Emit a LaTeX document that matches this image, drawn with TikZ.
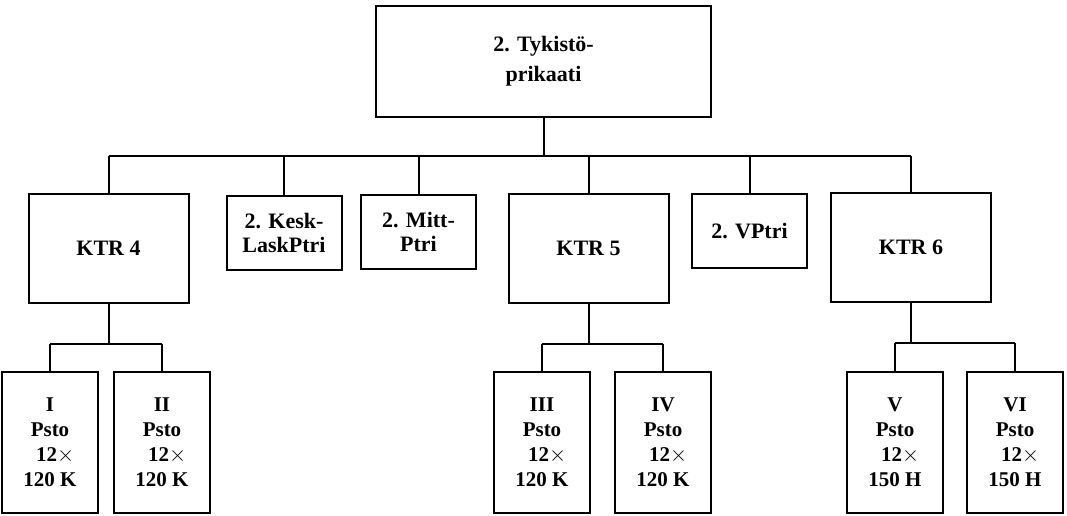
\documentclass[tikz,border=0pt]{standalone}
\usepackage{fontspec}
\setmainfont{Liberation Serif}
\usepackage{tikz}
\usetikzlibrary{positioning}
\tikzset{
  orgbox/.style={draw, line width=1pt, inner sep=0pt, align=center, font=\fontsize{11}{12}\selectfont\bfseries},
  brig/.style={orgbox, minimum width=167.5pt, minimum height=55.5pt, font=\fontsize{11}{15}\selectfont\bfseries},
  ktr/.style={orgbox, minimum width=80pt, minimum height=54.5pt},
  ptri/.style={orgbox, minimum width=57.5pt, minimum height=37pt},
  psto/.style={orgbox, minimum width=48pt, minimum height=70.5pt, font=\fontsize{10.5}{12.5}\selectfont\bfseries},
  link/.style={line width=1pt},
}

\begin{document}
\begin{tikzpicture}[x=0.5pt, y=-0.5pt]
\useasboundingbox (0,0) rectangle (1067,515);
\node[brig] (brig) at (543.5,61.5) {2. Tykistö-\\prikaati};
\node[ktr] (ktr4) at (108.5,248.5) {KTR 4};
\node[ptri] (kesk) at (284,232.5) {2. Kesk-\\LaskPtri};
\node[ptri] (mitt) at (418.5,232) {2. Mitt-\\Ptri};
\node[ktr] (ktr5) at (588.5,248.5) {KTR 5};
\node[ptri] (vptri) at (749.5,231) {2. VPtri};
\node[ktr] (ktr6) at (911,247.5) {KTR 6};
\node[psto] (p1) at (50,442.5) {I\\Psto\\\hspace*{0.5em}12$\times$\\120 K};
\node[psto] (p2) at (162,442.5) {II\\Psto\\\hspace*{0.5em}12$\times$\\120 K};
\node[psto] (p3) at (542,442.5) {III\\Psto\\\hspace*{0.5em}12$\times$\\120 K};
\node[psto] (p4) at (663,442.5) {IV\\Psto\\\hspace*{0.5em}12$\times$\\120 K};
\node[psto] (p5) at (895,442.5) {V\\Psto\\\hspace*{0.5em}12$\times$\\150 H};
\node[psto] (p6) at (1015,442.5) {VI\\Psto\\\hspace*{0.5em}12$\times$\\150 H};
\coordinate[below=19pt of brig.south] (bus);
\coordinate[below=20pt of ktr4.south] (bus4);
\coordinate[below=20pt of ktr5.south] (bus5);
\coordinate[below=20pt of ktr6.south] (bus6);
\draw[link] (brig.south) -- (bus);
\draw[link] (bus -| ktr4.north) -- (bus -| ktr6.north);
\draw[link] (bus -| ktr4.north) -- (ktr4.north);
\draw[link] (bus -| kesk.north) -- (kesk.north);
\draw[link] (bus -| mitt.north) -- (mitt.north);
\draw[link] (bus -| ktr5.north) -- (ktr5.north);
\draw[link] (bus -| vptri.north) -- (vptri.north);
\draw[link] (bus -| ktr6.north) -- (ktr6.north);
\draw[link] (ktr4.south) -- (bus4);
\draw[link] (bus4 -| p1.north) -- (bus4 -| p2.north);
\draw[link] (bus4 -| p1.north) -- (p1.north);
\draw[link] (bus4 -| p2.north) -- (p2.north);
\draw[link] (ktr5.south) -- (bus5);
\draw[link] (bus5 -| p3.north) -- (bus5 -| p4.north);
\draw[link] (bus5 -| p3.north) -- (p3.north);
\draw[link] (bus5 -| p4.north) -- (p4.north);
\draw[link] (ktr6.south) -- (bus6);
\draw[link] (bus6 -| p5.north) -- (bus6 -| p6.north);
\draw[link] (bus6 -| p5.north) -- (p5.north);
\draw[link] (bus6 -| p6.north) -- (p6.north);
\end{tikzpicture}
\end{document}
